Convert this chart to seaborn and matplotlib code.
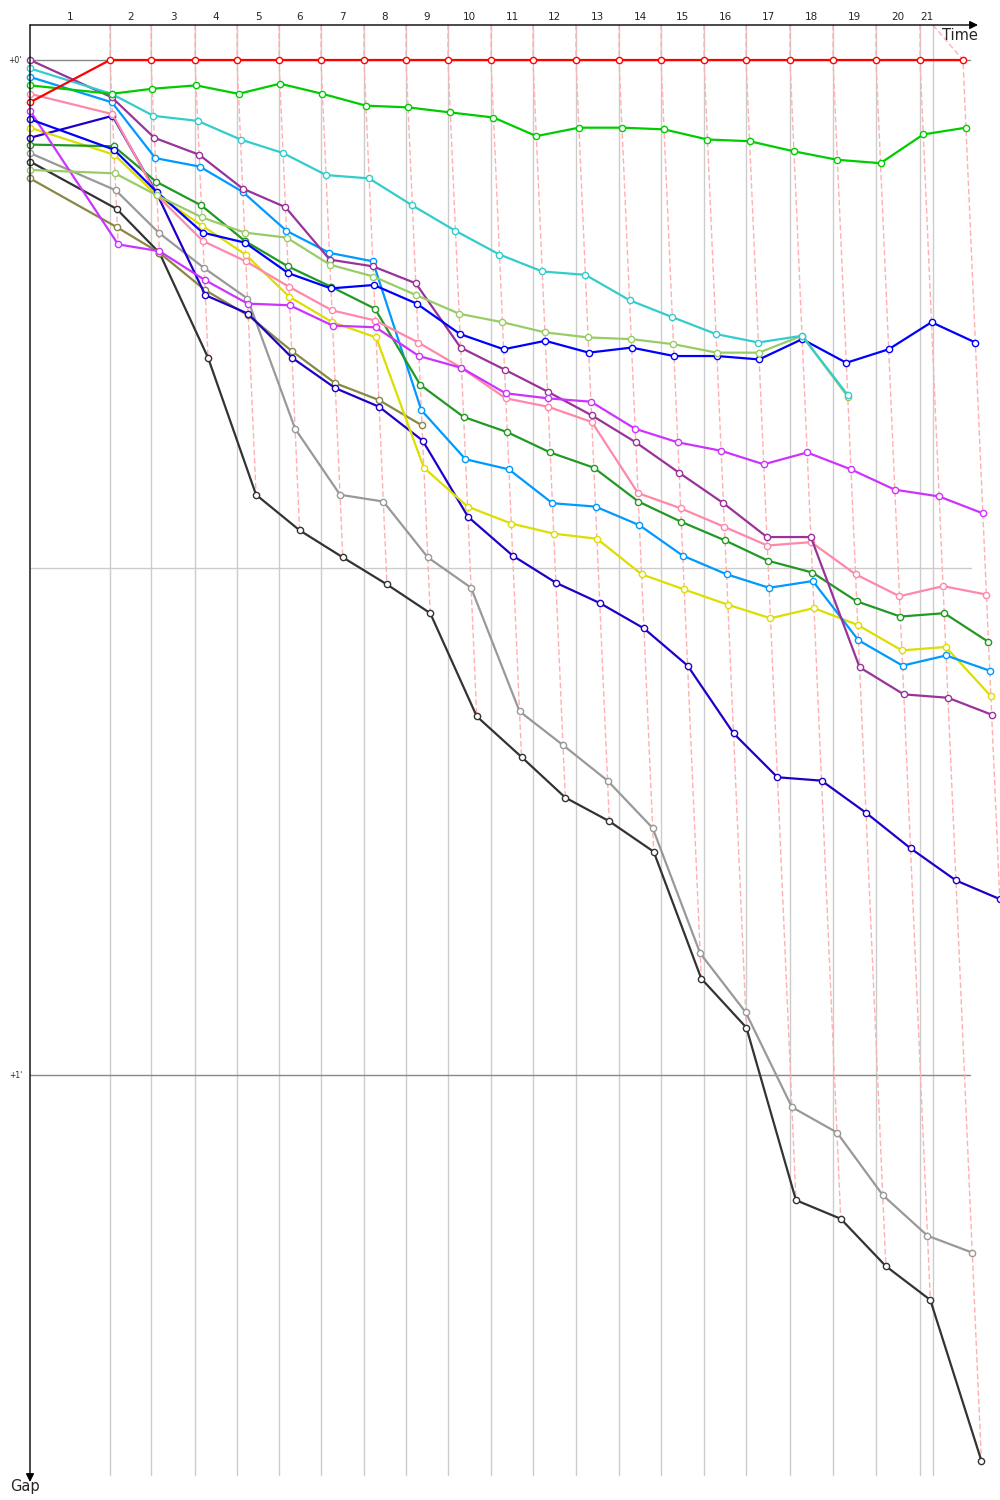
import seaborn as sns
import numpy as np
from matplotlib import pyplot as plt

# leader crossing time (s) of laps 1..21, and the time-limit mark
leader_times = [108.0, 163.3, 222.7, 279.4, 336.0, 392.7, 450.7, 507.4, 564.1, 622.1,
                678.8, 736.8, 794.9, 851.6, 909.6, 966.3, 1025.6, 1083.7, 1141.7, 1201.1, 1259.1]
time_limit = 1218.6
lap_labels = [str(i) for i in range(1, 22)]

# gaps to leader (s): first value = grid slot at the start, then one per lap
red_gaps = [2.5, 0.0, 0.0, 0.0, 0.0, 0.0, 0.0, 0.0, 0.0, 0.0, 0.0, 0.0,
            0.0, 0.0, 0.0, 0.0, 0.0, 0.0, 0.0, 0.0, 0.0, 0.0]
green_gaps = [1.5, 2.0, 1.7, 1.5, 2.0, 1.4, 2.0, 2.7, 2.8, 3.1, 3.4, 4.5,
              4.0, 4.0, 4.1, 4.7, 4.8, 5.4, 5.9, 6.1, 4.4, 4.0]
cyan_gaps = [0.5, 2.0, 3.3, 3.6, 4.7, 5.5, 6.8, 7.0, 8.6, 10.1, 11.5, 12.5,
             12.7, 14.2, 15.2, 16.2, 16.7, 16.3, 19.8]
purple_gaps = [0.0, 2.2, 4.6, 5.6, 7.6, 8.7, 11.8, 12.2, 13.2, 17.0, 18.3, 19.6,
               21.0, 22.6, 24.4, 26.2, 28.2, 28.2, 35.9, 37.5, 37.7, 38.7]
lightblue_gaps = [1.0, 2.5, 5.8, 6.3, 7.8, 10.1, 11.4, 11.9, 20.7, 23.6, 24.2, 26.2,
                  26.4, 27.5, 29.3, 30.4, 31.2, 30.8, 34.3, 35.8, 35.2, 36.1]
pink_gaps = [2.0, 3.2, 8.0, 10.7, 11.9, 13.4, 14.8, 15.4, 16.7, 18.2, 20.0, 20.5,
             21.4, 25.6, 26.5, 27.6, 28.7, 28.5, 30.4, 31.7, 31.1, 31.6]
magenta_gaps = [3.0, 10.9, 11.3, 13.0, 14.4, 14.5, 15.7, 15.8, 17.5, 18.2, 19.7, 20.0,
                20.2, 21.8, 22.6, 23.1, 23.9, 23.2, 24.2, 25.4, 25.8, 26.8]
darkgreen_gaps = [5.0, 5.1, 7.2, 8.6, 10.7, 12.2, 13.4, 14.7, 19.2, 21.1, 22.0, 23.2,
                  24.1, 26.1, 27.3, 28.4, 29.6, 30.3, 32.0, 32.9, 32.7, 34.4]
yellow_gaps = [4.0, 5.6, 8.0, 9.8, 11.5, 14.0, 15.5, 16.4, 24.1, 26.4, 27.4, 28.0,
               28.3, 30.4, 31.3, 32.2, 33.0, 32.4, 33.4, 34.9, 34.7, 37.6]
blue_gaps = [3.5, 5.3, 7.8, 10.2, 10.8, 12.6, 13.5, 13.3, 14.4, 16.2, 17.1, 16.6,
             17.3, 17.0, 17.5, 17.5, 17.7, 16.5, 17.9, 17.1, 15.5, 16.7]
darkblue_gaps = [4.6, 3.3, 7.9, 13.9, 15.0, 17.6, 19.4, 20.5, 22.5, 27.0, 29.3, 30.9,
                 32.1, 33.6, 35.8, 39.8, 42.4, 42.6, 44.5, 46.6, 48.5, 49.6]
gray_gaps = [5.5, 7.7, 10.2, 12.3, 14.1, 21.8, 25.7, 26.1, 29.4, 31.2, 38.5, 40.5,
             42.6, 45.4, 52.8, 56.3, 61.9, 63.4, 67.1, 69.5, 70.5]
black_gaps = [6.0, 8.8, 11.4, 17.6, 25.7, 27.8, 29.4, 31.0, 32.7, 38.8, 41.2, 43.6,
              45.0, 46.8, 54.3, 57.2, 67.4, 68.5, 71.3, 73.3, 82.8]
olive_gaps = [7.0, 9.9, 11.4, 13.6, 15.1, 17.2, 19.1, 20.1, 21.6]
yellowgreen_gaps = [6.5, 6.7, 8.0, 9.3, 10.2, 10.5, 12.1, 12.8, 13.9, 15.0, 15.5, 16.1,
                    16.4, 16.5, 16.8, 17.3, 17.3, 16.3, 19.9]

drivers = [
    (black_gaps, "#333333"),
    (gray_gaps, "#999999"),
    (olive_gaps, "#888844"),
    (darkblue_gaps, "#1f00c8"),
    (yellow_gaps, "#dddd00"),
    (lightblue_gaps, "#0099ff"),
    (darkgreen_gaps, "#229922"),
    (pink_gaps, "#ff88aa"),
    (purple_gaps, "#993399"),
    (magenta_gaps, "#cc33ff"),
    (blue_gaps, "#0000ff"),
    (yellowgreen_gaps, "#99cc66"),
    (cyan_gaps, "#33cccc"),
    (green_gaps, "#00cc00"),
    (red_gaps, "#ff0000"),
]

# scale: pixels per second on each axis
PX_X = 0.741
PX_Y = 1015 / 60.0
TOP = -35 / PX_Y
BOTTOM = 1422 / PX_Y

sns.set_style("white")
plt.rcParams['font.family'] = ['DejaVu Sans']

fig = plt.figure(figsize=(10, 15), dpi=100)
ax = fig.add_axes([0, 0, 1, 1])


def positions(gaps):
    xs = [0.0] + [leader_times[i] + g for i, g in enumerate(gaps[1:])]
    return xs, list(gaps)


# lap grid lines
marks = [0.0] + leader_times[:20] + [time_limit]
for m in marks[1:]:
    ax.plot([m, m], [TOP, 1415 / PX_Y], color="#cccccc", lw=1, zorder=0)
for i, lab in enumerate(lap_labels):
    ax.text((marks[i] + marks[i + 1]) / 2, -43 / PX_Y, lab, ha="center", va="center", fontsize=7.5)

# minute lines
ax.plot([0, 940 / PX_X], [0, 0], color="#888888", lw=1, zorder=0)
ax.plot([0, 940 / PX_X], [60, 60], color="#888888", lw=1, zorder=0)
ax.plot([0, 941 / PX_X], [30, 30], color="#cccccc", lw=1, zorder=0)
ax.text(-8 / PX_X, 0, "+0'", ha="right", va="center", fontsize=5.5)
ax.text(-8 / PX_X, 60, "+1'", ha="right", va="center", fontsize=5.5)

# dashed lap crossing lines
for k in range(1, 22):
    pts = []
    for gaps, _ in drivers:
        if len(gaps) > k:
            pts.append((leader_times[k - 1] + gaps[k], gaps[k]))
    pts.sort(key=lambda p: p[1])
    xs = [marks[k] if k < 21 else time_limit] + [p[0] for p in pts]
    ys = [TOP] + [p[1] for p in pts]
    ax.plot(xs, ys, color="#ffb0b0", lw=1, ls=(0, (4, 2)), zorder=1)

# drivers
for gaps, col in drivers:
    xs, ys = positions(gaps)
    sns.lineplot(x=xs, y=ys, ax=ax, color=col, lw=1.6, marker="o", markersize=4.5,
                 mfc="white", mec=col, mew=1, sort=False, estimator=None, zorder=3)

# axes arrows
ax.annotate("", xy=(948 / PX_X, TOP), xytext=(0, TOP),
            arrowprops=dict(arrowstyle="-|>", color="black", lw=1, mutation_scale=12, shrinkA=0, shrinkB=0))
ax.annotate("", xy=(0, BOTTOM), xytext=(0, TOP),
            arrowprops=dict(arrowstyle="-|>", color="black", lw=1, mutation_scale=12, shrinkA=0, shrinkB=0))
ax.text(930 / PX_X, -25 / PX_Y, "Time", ha="center", va="center", fontsize=10.5)
ax.text(-5 / PX_X, 1426 / PX_Y, "Gap", ha="center", va="center", fontsize=10.5)

ax.set_xlim(-30 / PX_X, 970 / PX_X)
ax.set_ylim(1440 / PX_Y, -60 / PX_Y)
ax.axis("off")

fig.savefig("out.png", dpi=100, facecolor="white")
